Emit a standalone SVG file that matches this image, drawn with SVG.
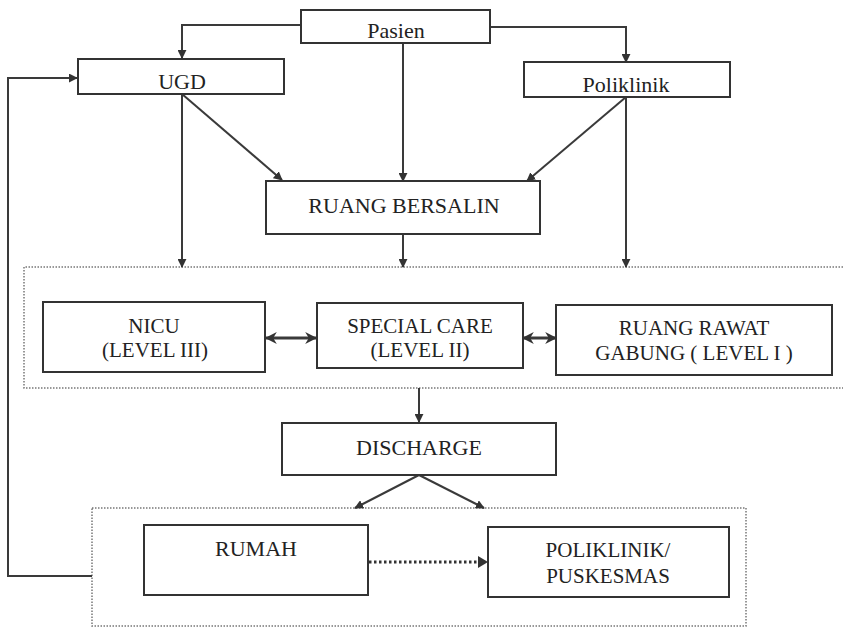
<svg xmlns="http://www.w3.org/2000/svg" width="843" height="628" viewBox="0 0 843 628">
<defs>
<style>
.box{fill:#fff;stroke:#333;stroke-width:2}
.grp{fill:none;stroke:#777;stroke-width:1.5;stroke-dasharray:1.5 1.5}
.ln{fill:none;stroke:#3a3a3a;stroke-width:2}
.dbl{fill:none;stroke:#3a3a3a;stroke-width:3}
.dot{fill:none;stroke:#333;stroke-width:3;stroke-dasharray:2.5 2.5}
text{font-family:"Liberation Serif","Times New Roman",serif;font-size:22px;fill:#222;text-anchor:middle}
.t2{font-size:21px}
</style>
<marker id="ah" viewBox="0 0 10 10" refX="9" refY="5" markerWidth="9" markerHeight="9" markerUnits="userSpaceOnUse" orient="auto-start-reverse">
<path d="M0,0 L10,5 L0,10 Z" fill="#333"/>
</marker>
<marker id="ah2" viewBox="0 0 10 10" refX="9" refY="5" markerWidth="12" markerHeight="12" markerUnits="userSpaceOnUse" orient="auto-start-reverse">
<path d="M0,0 L10,5 L0,10 L3,5 Z" fill="#333"/>
</marker>
</defs>
<rect width="843" height="628" fill="#fff"/>
<g id="group-levels"><path class="grp" d="M843,267 L24,267 L24,388 L843,388"/></g>
<g id="group-followup"><rect class="grp" x="92" y="508" width="654" height="118"/></g>
<g id="connectors">
<path class="ln" d="M301,25 H182 V58" marker-end="url(#ah)"/>
<path class="ln" d="M490,27 H626 V62" marker-end="url(#ah)"/>
<path class="ln" d="M403,43 V181" marker-end="url(#ah)"/>
<path class="ln" d="M182,94 L282,180" marker-end="url(#ah)"/>
<path class="ln" d="M626,97 L527,181" marker-end="url(#ah)"/>
<path class="ln" d="M182,94 V267" marker-end="url(#ah)"/>
<path class="ln" d="M626,97 V267" marker-end="url(#ah)"/>
<path class="ln" d="M403,234 V267" marker-end="url(#ah)"/>
<path class="dbl" d="M266,338 H316" marker-start="url(#ah2)" marker-end="url(#ah2)"/>
<path class="dbl" d="M523,338 H556" marker-start="url(#ah2)" marker-end="url(#ah2)"/>
<path class="ln" d="M419,388 V422" marker-end="url(#ah)"/>
<path class="ln" d="M419,475 L355,508" marker-end="url(#ah)"/>
<path class="ln" d="M419,475 L484,508" marker-end="url(#ah)"/>
<path class="dot" d="M369,562 H480"/>
<path d="M478,556 L488,562 L478,568 Z" fill="#333"/>
<path class="ln" d="M92,576 H8 V78 H77" marker-end="url(#ah)"/>
</g>
<g id="pasien"><rect class="box" x="301" y="10" width="189" height="33"/><text x="396" y="38">Pasien</text></g>
<g id="ugd"><rect class="box" x="78" y="59" width="206" height="35"/><text x="182" y="89">UGD</text></g>
<g id="poliklinik"><rect class="box" x="524" y="62" width="206" height="35"/><text x="626" y="92">Poliklinik</text></g>
<g id="ruang-bersalin"><rect class="box" x="266" y="181" width="274" height="53"/><text x="404" y="213">RUANG BERSALIN</text></g>
<g id="nicu"><rect class="box" x="43" y="302" width="222" height="70"/><text class="t2" x="154" y="333">NICU</text><text class="t2" x="155" y="357">(LEVEL III)</text></g>
<g id="special-care"><rect class="box" x="317" y="303" width="206" height="65"/><text class="t2" x="420" y="333">SPECIAL CARE</text><text class="t2" x="420" y="357">(LEVEL II)</text></g>
<g id="ruang-rawat"><rect class="box" x="556" y="305" width="276" height="70"/><text class="t2" x="694" y="335">RUANG RAWAT</text><text class="t2" x="694" y="360">GABUNG ( LEVEL I )</text></g>
<g id="discharge"><rect class="box" x="282" y="423" width="274" height="52"/><text x="419" y="455">DISCHARGE</text></g>
<g id="rumah"><rect class="box" x="144" y="525" width="224" height="70"/><text x="256" y="556">RUMAH</text></g>
<g id="poliklinik-puskesmas"><rect class="box" x="488" y="527" width="241" height="70"/><text class="t2" x="608" y="557">POLIKLINIK/</text><text class="t2" x="608" y="583">PUSKESMAS</text></g>
</svg>
